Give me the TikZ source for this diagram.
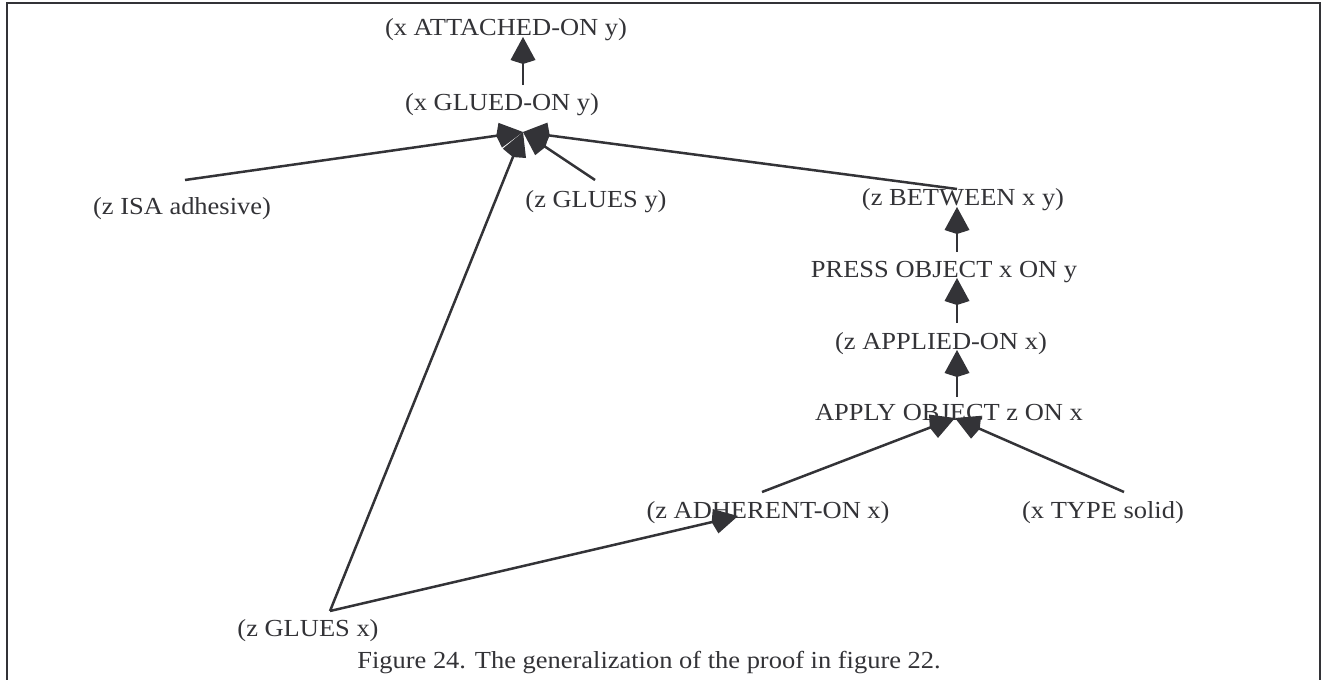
\documentclass[tikz,border=0pt]{standalone}
\usepackage{fontspec}
\usepackage{graphicx}
\setmainfont{Liberation Serif}
\usetikzlibrary{arrows.meta,calc}
\definecolor{ink}{RGB}{51,51,55}
\newcommand{\wide}[1]{\scalebox{1.08}[1]{#1}}
\tikzset{
  lbl/.style={inner sep=0pt, text=ink, font=\fontsize{24.5}{28}\selectfont},
  link/.style={draw=ink, line width=2.5pt},
  imp/.style={link, -{Kite[length=27pt,width=25pt,inset=4pt]}, fill=ink},
}
\begin{document}
\begin{tikzpicture}[x=1pt,y=-1pt]
\useasboundingbox (0,0) rectangle (1323,680);
\clip (0,0) rectangle (1323,680);
% outer frame (bottom edge runs below the page)
\draw[draw=ink, line width=2.4pt] (7,700) -- (7,3) -- (1320,3) -- (1320,700);

% statements
\node[lbl] (att)      at (506,30)  {\wide{(x ATTACHED-ON y)}};
\node[lbl] (glued)    at (502,105) {\wide{(x GLUED-ON y)}};
\node[lbl] (isa)      at (182,209) {\wide{(z ISA adhesive)}};
\node[lbl] (gluesy)   at (596,202) {\wide{(z GLUES y)}};
\node[lbl] (between)  at (963,200) {\wide{(z BETWEEN x y)}};
\node[lbl] (press)    at (944,272) {\wide{PRESS OBJECT x ON y}};
\node[lbl] (applied)  at (941,344) {\wide{(z APPLIED-ON x)}};
\node[lbl] (apply)    at (949,413) {\wide{APPLY OBJECT z ON x}};
\node[lbl] (adherent) at (768,513) {\wide{(z ADHERENT-ON x)}};
\node[lbl] (typesol)  at (1103,513) {\wide{(x TYPE solid)}};
\node[lbl] (gluesx)   at (308,631) {\wide{(z GLUES x)}};
\node[lbl] (caption)  at (649,663) {\wide{Figure 24. The generalization of the proof in figure 22.}};

% connection points
\coordinate (attIn)      at ($(att)+(17,7)$);
\coordinate (gluedOut)   at ($(glued)+(21,-20)$);
\coordinate (gluedIn)    at ($(glued)+(21,27)$);
\coordinate (isaOut)     at ($(isa)+(3,-29)$);
\coordinate (gluesyOut)  at ($(gluesy)+(-1,-22)$);
\coordinate (betweenOut) at ($(between)+(-6,-11)$);
\coordinate (betweenIn)  at ($(between)+(-6,7)$);
\coordinate (pressOut)   at ($(press)+(13,-20)$);
\coordinate (pressIn)    at ($(press)+(13,6)$);
\coordinate (appliedOut) at ($(applied)+(16,-21)$);
\coordinate (appliedIn)  at ($(applied)+(16,6)$);
\coordinate (applyOut)   at ($(apply)+(8,-16)$);
\coordinate (applyIn)    at ($(apply)+(6,5)$);
\coordinate (adherentOut) at ($(adherent)+(-6,-21)$);
\coordinate (adherentIn) at ($(adherent)+(-30,3)$);
\coordinate (typesolOut) at ($(typesol)+(21,-21)$);
\coordinate (gluesxOut)  at ($(gluesx)+(22,-20)$);

% inference links
\draw[imp] (gluedOut) -- (attIn);
\draw[imp] (isaOut) -- (gluedIn);
\draw[imp] (betweenOut) -- (gluedIn);
\draw[imp] (gluesxOut) -- (gluedIn);
\draw[imp] (gluesyOut) -- (gluedIn);
\draw[imp] (pressOut) -- (betweenIn);
\draw[imp] (appliedOut) -- (pressIn);
\draw[imp] (applyOut) -- (appliedIn);
\draw[imp] (adherentOut) -- (applyIn);
\draw[imp] (typesolOut) -- (applyIn);
\draw[imp] (gluesxOut) -- (adherentIn);
\end{tikzpicture}
\end{document}
